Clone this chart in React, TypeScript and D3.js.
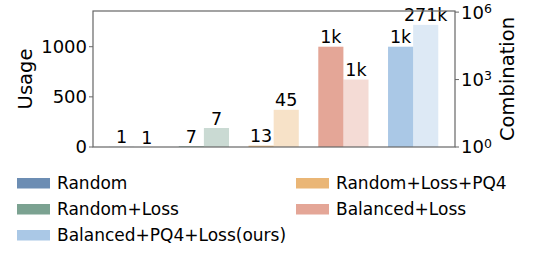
import * as React from "react";
import * as d3 from "d3";

const methods = ["Random", "Random+Loss", "Random+Loss+PQ4", "Balanced+Loss", "Balanced+PQ4+Loss(ours)"];
const colors = ["#6c8db3", "#7ba291", "#eab676", "#e4a697", "#aac8e6"];
const usage = [1, 7, 13, 1000, 1000];
const combination = [1, 7, 45, 1000, 271000];
const usageTicks = [0, 500, 1000];
const combTicks = [0, 3, 6];
// legend laid out in two columns like the original figure
const legendCol1 = [0, 1, 4];
const legendCol2 = [2, 3];

const W = 548;
const H = 262;
const plot = { left: 93, right: 455, top: 11, bottom: 147 };
const FONT = "DejaVu Sans, sans-serif";

function fmt(v: number) {
  return v >= 1000 ? `${Math.round(v / 1000)}k` : `${v}`;
}

export default function App() {
  const x = d3.scaleLinear().domain([-0.59, 4.6]).range([plot.left, plot.right]);
  const yL = d3.scaleLinear().domain([0, 1356]).range([plot.bottom, plot.top]);
  const yR = d3.scaleLog().domain([1, Math.pow(10, 6.05)]).range([plot.bottom, plot.top]);
  const bw = x(0.36) - x(0);

  return (
    <svg width={W} height={H} style={{ position: "absolute", left: 0, top: 0 }} fontFamily={FONT}>
      <rect width={W} height={H} fill="#fff" />
      {methods.map((m, i) => {
        const uTop = yL(usage[i]);
        const cTop = yR(combination[i]);
        const xc = x(i);
        return (
          <g key={m}>
            <rect x={xc - bw} y={uTop} width={bw} height={plot.bottom - uTop} fill={colors[i]} />
            <rect x={xc} y={cTop} width={bw} height={plot.bottom - cTop} fill={colors[i]} fillOpacity={0.4} />
            <text x={xc - bw / 2} y={uTop - 3.5} textAnchor="middle" fontSize={17.5} fill="#000">{fmt(usage[i])}</text>
            <text x={xc + bw / 2} y={cTop - 3.5} textAnchor="middle" fontSize={17.5} fill="#000">{fmt(combination[i])}</text>
          </g>
        );
      })}
      <rect x={plot.left} y={plot.top} width={plot.right - plot.left} height={plot.bottom - plot.top}
        fill="none" stroke="#666" strokeWidth={1.2} />
      {usageTicks.map(t => (
        <g key={t} transform={`translate(${plot.left},${yL(t)})`}>
          <line x1={-4} x2={0} stroke="#666" />
          <text x={-6} dy="0.36em" textAnchor="end" fontSize={18} fill="#000">{t}</text>
        </g>
      ))}
      {combTicks.map(t => (
        <g key={t} transform={`translate(${plot.right},${yR(Math.pow(10, t))})`}>
          <line x1={0} x2={4} stroke="#666" />
          <text x={6} dy="0.36em" fontSize={18} fill="#000">
            10<tspan dy="-0.45em" fontSize={12.5}>{t}</tspan>
          </text>
        </g>
      ))}
      <text transform={`translate(32,${(plot.top + plot.bottom) / 2}) rotate(-90)`} textAnchor="middle"
        fontSize={19.5} fill="#000">Usage</text>
      <text transform={`translate(514,${(plot.top + plot.bottom) / 2}) rotate(-90)`} textAnchor="middle"
        fontSize={19.5} fill="#000">Combination</text>
      {[legendCol1, legendCol2].map((col, ci) =>
        col.map((idx, ri) => {
          const lx = ci === 0 ? 17 : 296;
          const ly = 183 + ri * 26;
          return (
            <g key={methods[idx]} transform={`translate(${lx},${ly})`}>
              <rect x={0} y={-5} width={33} height={10.5} fill={colors[idx]} />
              <text x={40} dy="0.36em" fontSize={17} fill="#000">{methods[idx]}</text>
            </g>
          );
        })
      )}
    </svg>
  );
}
